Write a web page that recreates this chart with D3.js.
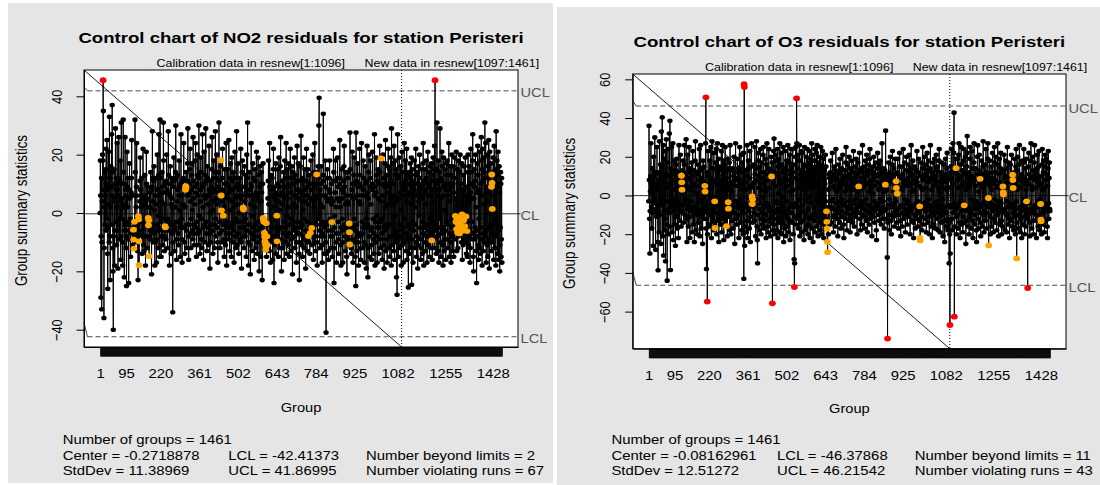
<!DOCTYPE html>
<html>
<head>
<meta charset="utf-8">
<script src="https://cdn.jsdelivr.net/npm/d3@7"></script>
<style>
html,body{margin:0;padding:0;background:#ffffff;}
svg{display:block;}
text{font-family:"Liberation Sans",Arial,Helvetica,sans-serif;}
</style>
</head>
<body>
<svg id="chart" width="1100" height="485"></svg>
<script>
// ================= DATA =================
const groupTickLabels = [1,95,220,361,502,643,784,925,1082,1255,1428];
const nGroups = 1461;
const calibrationEnd = 1096;

// ---- NO2 ----
const no2Title = "Control chart of NO2 residuals for station Peristeri";
const no2YTicks = [-40,-20,0,20,40];
const no2Center = -0.2718878, no2StdDev = 11.38969, no2LCL = -42.41373, no2UCL = 41.86995;
const no2BeyondLimits = 2, no2ViolatingRuns = 67;
const no2RunGroups = [122,123,124,126,140,141,142,143,176,177,178,179,237,238,311,312,313,440,441,442,449,521,522,
  594,595,596,598,599,600,601,602,603,604,605,607,609,643,644,758,765,770,788,843,906,907,908,1022,1206,
  1292,1294,1296,1298,1300,1303,1305,1307,1310,1313,1316,1319,1322,1326,1330,1334,1423,1424,1425,1426];
const no2Rows = [
/*1*/   [0,18,6,-29,-8,12,-33,-10,4,20,18,45.5,35,8,-36,-12,2,14,-4,6],
/*21*/  [15,-6,22,10,-2,25,8,-14,-26,-5,9,21,3,-10,33,12,-8,-23,2,16],
/*41*/  [-4,9,27,14,37,6,-12,-20,-40,-8,4,15,5,-18,-6,10,29,8,-3,12],
/*61*/  [-11,2,24,8,-6,-19,-4,12,26,6,-9,-2,11,18,4,-16,-8,31,10,-2],
/*81*/  [5,-10,-18,2,32,14,3,-6,-22,-4,10,26,8,-3,-12,6,-25,-8,21,9],
/*101*/ [2,12,-4,-9,-24,-6,8,17,5,-2,-7,-15,-3,7,12,25,6,-5,-11,-6],
/*121*/ [-9,-5.7,-9.1,-12.2,-7,-3.0,6,32,14,-4,-10,2,9,24,6,-8,-13,-4,-23,-1.1],
/*141*/ [-2.2,-9.7,-17.9,-6,4,11,19,8,-3,-7,2,12,6,-14,-8,3,22,5,-11,-3],
/*161*/ [-13,-2,6,13,3,-18,-8,4,21,10,-4,-12,5,9,2,-1.7,-4.2,-2.5,-14.8,-8],
/*181*/ [7,2,-9,-6,14,8,-5,-21,-4,9,28,12,-5,-10,4,11,16,1,-7,-18],
/*201*/ [-10,6,12,3,-9,-17,-4,8,20,8,-6,-12,-1,13,27,6,-5,-15,32,12],
/*221*/ [-3,7,-15,-8,4,14,9,-6,-11,7,31,18,-2,-8,-13,3,-4.5,-4.9,10,-9],
/*241*/ [-6,11,20,8,-3,-12,-2,7,28,13,-3,-6,-18,-4,6,16,10,-4,-14,3],
/*261*/ [12,5,-7,2,-34,-10,-4,9,19,11,-5,-13,-6,2,14,30,12,-3,-16,-9],
/*281*/ [4,13,8,-3,-7,-11,6,18,9,1,-5,-15,-4,10,27,9,-2,-9,-17,6],
/*301*/ [11,-5,3,12,24,8,-5,-10,-14,2,8.0,9.2,8.6,14,-6,-12,-4,11,17,29],
/*321*/ [6,-8,-16,-4,7,10,15,22,4,-7,-12,-2,8,13,17,1,-6,-9,26,11],
/*341*/ [5,-4,-11,-7,3,9,18,24,7,-5,-15,-3,10,20,13,6,-7,-11,12,30],
/*361*/ [12,-1,-6,-14,4,8,19,14,-2,-9,-12,9,27,10,2,-5,-16,6,21,10],
/*381*/ [-4,-10,5,13,29,11,-3,-7,-13,6,16,12,3,-5,-11,6,23,8,-7,-19],
/*401*/ [0,11,7,-10,-4,9,15,26,7,-6,-14,1,12,18,4,-4,-12,8,14,28],
/*421*/ [-2,-8,5,12,20,3,-5,-10,-17,9,14,7,31,11,-3,-7,-12,4,16,18.1],
/*441*/ [6.0,0.9,-6,-10,12,22,8,-4,-0.9,7,-9,-15,2,15,10,-4,-11,6,24,-7],
/*461*/ [-18,-5,10,15,5,-3,-9,9,25,7,-7,-13,1,12,17,8,-5,-15,4,19],
/*481*/ [11,-4,-10,8,14,2,-6,-17,-3,12,21,5,-8,-12,-2,9,28,6,-11,3],
/*501*/ [10,17,-3,-7,-14,0,12,8,-5,-9,9,22,5,-10,-19,6,14,18,-3,-8],
/*521*/ [1.8,1.2,-5,-12,9,16,4,-8,-2,13,7,-15,-6,20,12,6,31,-6,-10,-18],
/*541*/ [-4,6,14,8,-4,-11,-21,3,10,24,9,-7,-13,-1,6,17,12,-5,-9,5],
/*561*/ [-16,-8,2,15,11,-4,-12,7,21,6,-6,-14,-10,5,19,13,-3,-8,-20,4],
/*581*/ [9,16,10,-5,-15,4,14,7,-9,-23,-5,10,17,-1.7,-2.4,-3.0,-11,-6.8,-8.2,-9.7],
/*601*/ [-7.6,-10.8,-12.6,-11.4,-3.5,-15,-8.0,-4,-11.0,-7,5,11,18,3,-9,-13,24,9,-4,-17],
/*621*/ [8,13,-3,-10,6,12,-5,-16,2,15,22,-8,-24,-2,9,5,-11,7,17,-14],
/*641*/ [6,-8,-0.9,-9.7,-6,10,15,-6,-15,4,19,9,-12,-5,1,16,26,6,-9,-20],
/*661*/ [-5,7,11,3,-12,-7,9,14,-3,-16,6,18,12,-5,-10,5,24,9,-14,-1],
/*681*/ [15,5,-8,-11,2,17,9,-4,-15,-7,12,22,7,-2,-13,-9,10,16,-4,-21],
/*701*/ [12,14,-3,-6,3,10,19,-8,-12,6,13,2,-5,-17,-10,11,23,-3,-7,8],
/*721*/ [17,5,-7,-14,-23,-10,7,16,11,-5,26.5,7,-11,-4,4,12,-15,-8,1,19],
/*741*/ [6,-12,-2,8,15,4,-9,-19,-6,11,22,6,-13,-3,9,15,3,-7.9,-10,-7],
/*761*/ [13,10,-14,-5,-6.8,5,18,8,-4,-5.1,-8,-11,10,20,-6,-16,4,14,2,-10],
/*781*/ [24,9,-8,-13,6,14,-4,13.2,10,-18,-10,5,16,12,-2,30,39.5,-6,-12,8],
/*801*/ [-8,3,10,16,6,-4,-11,-17,-7,2,13,34,11,-3,-8,-14,-5,6,18,9],
/*821*/ [-10,-41,-14,-4,5,12,15,4,-6,-13,-16,-3,8,12,18,7,-2,-8,-12,5],
/*841*/ [10,3,-3.1,-8,-15,-6,4,11,22,14,-24,-12,-5,-1,7,18,11,2,-10,-17],
/*861*/ [-7,5,12,19,9,-3,-9,-14,-7,4,10,25,12,2,-11,-18,-5,5,15,8],
/*881*/ [-2,-10,-17,-6,7,11,16,23,9,-4,-13,-8,3,14,6,-5,-15,-21,-9,4],
/*901*/ [12,14,3,-7,-11,-3.6,-6.6,-10.8,27.6,15,6,-5,-12,-14,-4,8,21,10,-9,-17],
/*921*/ [-5,5,13,19,10,-2,-10,-15,-6,-25,27.6,11,-4,-13,-8,6,17,9,-10,-18],
/*941*/ [-7,4,10,22,13,3,-8,-16,-12,6,24,9,-3,-12,-7,8,18,12,-5,-10],
/*961*/ [-17,-4,6,16,10,-5,-11,-19,-2,11,23,7,-4,-22,-12,5,14,20,-8,-15],
/*981*/ [-5,9,12,18,3,-6,-11,-16,-5,8,21,10,-2,-9,-14,-7,6,27,9,-18],
/*1001*/[-10,-3,7,19,13,-1,-8,-17,-5,11,15,5,-5,-14,-9,10,23,14,-3,-12],
/*1021*/[4,18.7,10,-2,-7,-16,-9,6,20,12,-5,-11,-19,-6,9,17,2,25,-13,-4],
/*1041*/[10,13,-5,-17,-9,7,16,22,3,-12,-4,9,15,-15,-8,6,19,11,-18,29],
/*1061*/[5,-11,-8,3,17,10,-13,-7,23,6,-16,-1,13,18,-10,4,15,-22,-6,-28],
/*1081*/[-8,27,12,-9,-15,5,13,19,-4,-12,-8,7,16,1,-18,-6,10,21,-11,9],
/*1101*/[14,-5,-17,6,10,24,8,-10,-2,18,11,-13,-7,4,22,-16,-9,6,13,-4],
/*1121*/[-25.5,-8,10,14,-14,-5,7,17,12,-12,3,19,-24.6,-9,9,15,-3,-17,6,11],
/*1141*/[-6,8,18,-12,-4,2,13,22,6,-10,-15,-8,10,14,-19,-11,4,16,7,-1],
/*1161*/[12,20,-9,-5,9,-16,-12,5,15,10,-3,-14,6,17,24,-7,-18,8,11,-5],
/*1181*/[15,7,-10,-13,3,18,12,-8,-17,-4,10,21,6,-11,-6,9,14,-15,-2,16],
/*1201*/[6,-12,-7,11,17,-9.4,8,-16,-3,13,19,4,-9,15,-12,23,8,45.5,15,-6],
/*1221*/[10,-14,-4,15,31,11,-8,-13,6,18,-5,-17,8,14,-2,29,12,-10,-15,5],
/*1241*/[-7,11,21,16,-5,-11,-18,6,19,9,-13,-9,1,15,10,-6,-16,8,17,-3],
/*1261*/[13,18,6,-9,-12,-4,8,24,10,-15,-7,4,16,13,-10,-17,-2,9,20,-8],
/*1281*/[-13,-5,10,16,7,-15,-3,12,19,-9,5,-1.0,-7,-3.0,21,-5.5,-13,-2.0,15,-6.8],
/*1301*/[-12,18,-4.0,-8,-1.5,14,-7.0,-5,20,-3.2,-7,10,-5.0,-10,17,-0.5,-16,8,-6.0,-11],
/*1321*/[13,-2.5,-9,16,-6,-4.5,-10,19,-7,-1.2,9,-14,6,-6.2,-15,14,-8,20,4,-11],
/*1341*/[6,16,10,-6,-17,-12,7,22,14,5,-9,-3,10,18,27,-7,-15,-20,5,15],
/*1361*/[9,-9,-5,11,20,2,-13,-8,-24,-6,17,7,23,13,-11,-16,8,-2,21,-12],
/*1381*/[7,-14,-5,10,18,26,6,-9,-18,15,22,11,-7,-13,3,19,14,-10,31,-8],
/*1401*/[12,24,-6,-17,9,4,-11,20,16,-15,-9,7,25,13,-19,-5,21,10,-10,-4],
/*1421*/[17,-13,9,13.2,10.3,1.4,-10,-7,19,14,-16,6,23,10,-12,-2,15,7,-18,28],
/*1441*/[-8,13,18,-4,-14,10,21,-6,-16,9,16,7,-20,-11,-5,14,10,-15,-9,12],
/*1461*/[-17]
];

// ---- O3 ----
const o3Title = "Control chart of O3 residuals for station Peristeri";
const o3YTicks = [-60,-40,-20,0,20,40,60];
const o3Center = -0.08162961, o3StdDev = 12.51272, o3LCL = -46.37868, o3UCL = 46.21542;
const o3BeyondLimits = 11, o3ViolatingRuns = 43;
const o3RunGroups = [120,121,122,205,206,241,242,284,290,291,377,378,379,448,648,649,650,651,652,765,862,
  901,902,905,987,988,989,1119,1149,1207,1237,1238,1290,1291,1292,1325,1326,1327,1340,1376,1427,1428,1429];
const o3Rows = [
/*1*/   [-3,36,8,-12,-30,-8,2,10,27,6,-6,-17,4,14,-9,1,-26,6,20,-4],
/*21*/  [10,-2,30,12,4,-28,-7,12,-11,3,25,6,-9,-24,-38.6,-5,8,12,-19,28],
/*41*/  [-10,11,-2,16,-25,-5,33,9,-4,40.4,-21,-3,10,26,-31,-8,19,7,-12,-18],
/*61*/  [23,-34,-9,11,29,4,-15,-44,-3,17,24,6,-20,-7,10,32,-9,38.6,-16,-38.5],
/*81*/  [14,6,-6,25,8,-19,-5,12,27,-2,-23,-8,11,18,3,-15,-4,-26,13,16],
/*101*/ [-11,7,19,-3,-17,4,12,-6,-22,8,26,9,-13,-5,4,21,-8,3,-16,10.2],
/*121*/ [6.8,3.0,1.5,13,-9,18,-5,-14,8,16,26,-4,-10,3,11,-2,29,5,-12,-24],
/*141*/ [-7,12,21,4,-16,-5,9,25,3,-11,-22,-3,14,8,-8,4,17,-6,-19,10],
/*161*/ [23,5,-9,-15,6,13,-24,-8,2,18,28,-6,-18,5,12,-10,1,-20,-4,16],
/*181*/ [11,-7,-14,8,24,5,-21,-9,13,26,-2,-17,6,9,-11,14,-25,-4,18,7],
/*201*/ [-9,15,6,-12,5.0,2.0,-6,27,50.7,-17,-38,-8,12,-54.8,-20,-3,23,10,-15,6],
/*221*/ [-10,4,18,-4,-16,9,25,-6,-22,4,28,7,-12,-7,14,-18,-1,22,8,-14],
/*241*/ [-3.0,-16.8,-5,17,6,-9,24,-20,-4,12,27,-5,-13,10,19,-24,2,15,-11,-6],
/*261*/ [8,-15,-3,13,23,-2,-19,5,26,-8,-12,11,18,-23,-4,16,3,-10,25,-14],
/*281*/ [12,-7,9,-15.9,-5,19,-21,6,14,-3.5,-6.8,-11,3,17,-18,4,26,-9,13,-20],
/*301*/ [7,-4,-13,2,14,6,-8,-17,-6,10,20,5,-9,-25,-3,12,27,8,-12,-3],
/*321*/ [-15,-6,9,19,5,-10,-4,14,-22,-5,8,25,6,-14,-2,12,21,-7,-18,3],
/*341*/ [17,6,-5,-20,-9,22,-43,57.5,56,-26,-16,-4,7,13,3,-19,-6,10,26,-13],
/*361*/ [-22,-1,14,18,4,-8,-17,9,23,5,-24,-11,4,15,27,-4,-0.5,-4.4,-2.0,-14],
/*381*/ [-6,6,16,-9,-13,7,25,11,-5,-21,-2,14,28,8,-16,-23,-35,-10,18,22],
/*401*/ [4,-7,-18,10,15,-4,6,24,-12,-20,3,17,9,-9,-15,-1,21,25,-6,-17],
/*421*/ [12,-6,-13,7,19,2,-10,-22,-4,16,27,11,-5,-16,-19,8,14,24,-8,-12],
/*441*/ [4,13,-6,-21,-14,9,20,9.8,-11,17,-55.7,-8,-18,6,23,-15,29.4,12,-9,-20],
/*461*/ [-4,5,18,21,-3,-12,-18,10,24,-7,-22,1,15,19,-9,-14,8,27,-4,-19],
/*481*/ [6,22,-11,-20,7,16,-6,-15,12,25,-1,-24,-8,14,9,-17,4,23,-8,-21],
/*501*/ [-10,13,18,-3,-16,8,26,5,-12,-19,-7,17,21,-13,-23,2,11,24,-5,15],
/*521*/ [7,-9,-14,12,24,3,-20,-6,16,-33,-47.3,-35,-11,-4,20,25,9,-15,50.2,27],
/*541*/ [-12,-6,14,21,8,-17,-10,4,26,18,-21,-2,11,-14,6,23,-8,-19,13,4],
/*561*/ [22,-5,-13,10,16,-23,3,25,-9,-18,12,7,-3,20,15,-16,-11,24,5,-20],
/*581*/ [-7,11,17,-15,-1,23,8,-22,-12,19,4,-4,14,27,-17,6,21,-10,-24,13],
/*601*/ [9,-6,-13,18,24,-19,5,15,-9,-2,22,11,-16,26,-11,7,-21,17,-4,12],
/*621*/ [-14,20,-8,9,-18,14,25,-12,4,-20,16,-5,23,-15,10,-1,19,-22,8,13],
/*641*/ [-10,6,-17,21,-3,15,-12,-8.2,-13.6,-17.2,-24,-29.3,-14,-6,-20,3,11,-7,9,-15],
/*661*/ [4,12,18,7,-6,-14,-3,9,22,11,-2,-11,-19,-7,5,15,8,-10,-16,3],
/*681*/ [13,24,9,-4,-12,2,11,-8,-21,-6,8,16,4,-9,-14,6,19,12,-3,-17],
/*701*/ [-8,5,14,-2,-11,7,21,10,-5,-15,-22,-4,9,13,2,-12,6,17,25,3],
/*721*/ [-9,-18,-6,10,16,5,-7,-13,8,20,11,-3,-10,-19,4,14,-5,-12,9,18],
/*741*/ [6,-7,-14,3,12,23,8,-4,-16,-9,7,15,-2,-11,10,19,5,-8,-20,-6],
/*761*/ [11,17,2,-9,4.7,-5,13,22,7,-12,-18,-3,9,14,-6,-15,3,12,26,4],
/*781*/ [-10,-4,8,15,-7,-17,-11,5,18,10,-2,-13,6,21,13,-8,-19,-5,11,16],
/*801*/ [2,-9,-15,7,19,24,6,-6,-12,4,13,-10,-21,-7,8,15,1,-11,12,20],
/*821*/ [9,-3,-14,-8,5,17,10,-5,-18,-23,-6,7,14,22,11,-4,-10,3,16,-7],
/*841*/ [-13,-2,10,18,6,-9,-15,4,12,27,9,-6,-12,-3,8,14,-8,-17,5,13],
/*861*/ [2,5.6,33.5,8,-7,-12,3,11,-32,-73.9,-14,-5,9,17,6,-10,-18,-2,12,20],
/*881*/ [8,-5,-13,-20,-6,10,16,23,7,-4,-11,2,14,-9,-16,5,11,19,-3,-10],
/*901*/ [7.3,3.9,-8,-14,0.9,12,19,6,-7,-17,-10,4,15,22,10,-6,-13,-21,-5,9],
/*921*/ [15,4,-9,-16,3,11,24,8,-5,-12,6,17,-2,-10,-19,-7,8,13,20,5],
/*941*/ [-8,-15,-4,9,16,-3,-11,7,21,12,-6,-20,-9,5,14,26,10,-7,-13,2],
/*961*/ [11,18,-5,-14,-22,-6,8,15,3,-10,-17,6,13,-4,-12,9,23,7,-9,-16],
/*981*/ [-3,12,19,5,-8,-13,-5.6,-21.9,-23.3,-7,10,17,4,-11,-18,3,14,25,8,-6],
/*1001*/[-15,-4,9,20,11,-6,-12,4,16,-8,-19,-3,10,22,13,-5,-14,7,18,-2],
/*1021*/[-11,-20,-5,8,14,26,9,-7,-16,3,12,-9,-22,-6,11,17,5,-10,-15,8],
/*1041*/[19,6,-8,-17,-4,10,21,13,-3,-12,7,15,-6,-18,-9,4,18,24,2,-11],
/*1061*/[-19,-7,6,12,-5,-14,8,17,10,-2,-10,-21,-8,9,16,4,-13,-24,-6,11],
/*1081*/[19,7,-9,-16,3,14,22,8,-12,-18,-5,10,4,-35,-14,-20,-66.9,-30,12,-6],
/*1101*/[15,24,9,-12,-18,-5,13,27,6,-9,22,42.8,-62.6,-16,-4,12,19,-7,14.1,-11],
/*1121*/[-20,-6,11,19,8,-10,-17,4,21,27,10,-5,-14,-22,-3,9,16,25,-8,-15],
/*1141*/[5,13,-4,-19,-11,7,18,24,-5.1,-14,-7,11,20,3,-25,-13,6,15,22,30.7],
/*1161*/[9,-8,-16,4,12,-6,-20,-11,8,19,25,6,-9,-17,-2,10,23,14,-7,-13],
/*1181*/[-22,-4,9,17,27,8,-6,-15,-10,5,14,-3,-18,-24,-7,11,20,26,-5,-12],
/*1201*/[-17,2,13,21,6,-9,8.6,-14,-21,-6,9,18,11,-4,-16,7,15,28,4,-10],
/*1221*/[-19,-8,10,16,-3,-13,6,24,12,-5,-17,-9,8,19,27,11,-1.3,-25.8,-6,9],
/*1241*/[18,5,-11,-20,-4,7,15,-6,-16,3,12,22,9,-8,-19,-12,6,17,25,-2],
/*1261*/[-14,-5,8,20,12,-7,-18,-10,5,16,27,4,-9,-21,-3,11,19,-6,-15,7],
/*1281*/[14,22,-4,-13,-20,5,12,-8,-16,4.7,1.6,0.5,13,21,9,-7,-18,-9,10,18],
/*1301*/[6,-10,-19,-3,14,25,7,-6,-15,4,17,10,-12,-22,-5,9,16,-4,-13,8],
/*1321*/[21,11,-6,-16,10.7,8.0,3.9,-9,-18,-5,12,19,6,-11,-20,-7,15,24,-3,-32.5],
/*1341*/[-14,3,13,20,8,-10,-17,5,16,26,9,-6,-19,-12,4,11,-8,-22,10,18],
/*1361*/[7,-5,-15,9,17,24,-2,-11,-20,6,14,-7,-16,3,19,-3.0,-9,8,-12,-47.8],
/*1381*/[-10,6,15,22,11,-4,-14,-21,-7,9,18,27,5,-9,-17,3,13,20,-6,-13],
/*1401*/[-20,-8,10,17,26,8,-5,-13,4,12,-10,-22,-6,14,21,9,-3,-16,7,15],
/*1421*/[23,5,-11,-18,-2,10,-4.4,-12.5,-13.3,-20,6,16,24,3,-9,-15,12,18,-7,-14],
/*1441*/[-19,4,15,21,-6,-13,8,19,11,-8,-16,-22,5,14,23,-4,-12,9,17,-7],
/*1461*/[-8]
];

const no2Values = no2Rows.flat();
const o3Values = o3Rows.flat();

// ================= DRAWING =================
const svg = d3.select("#chart");
const K = 1.2; // horizontal glyph stretch seen in the reference

function label(g, s, x, y, o = {}) {
  const k = o.k != null ? o.k : K;
  const t = g.append("text").text(s)
    .attr("transform", `translate(${x},${y}) scale(${k},1)` + (o.rot ? ` rotate(${o.rot})` : ""))
    .attr("font-size", o.size || 12.4)
    .attr("text-anchor", o.anchor || "start")
    .attr("fill", o.fill || "#000");
  if (o.bold) t.attr("font-weight", "bold");
  return t;
}

function drawPanel(p) {
  const g = svg.append("g");
  g.append("rect").attr("x", p.bg[0]).attr("y", p.bg[1])
    .attr("width", p.bg[2] - p.bg[0]).attr("height", p.bg[3] - p.bg[1]).attr("fill", "#e5e5e5");
  const b = p.box;
  const span = nGroups - 1;
  const x = d3.scaleLinear().domain([1 - 0.04 * span, nGroups + 0.04 * span]).range([b.x0, b.x1]);
  const lo = Math.min(p.lcl, d3.min(p.values)), hi = Math.max(p.ucl, d3.max(p.values));
  const pad = 0.04 * (hi - lo);
  const y = d3.scaleLinear().domain([lo - pad, hi + pad]).range([b.y1, b.y0]);

  g.append("rect").attr("x", b.x0).attr("y", b.y0).attr("width", b.x1 - b.x0).attr("height", b.y1 - b.y0)
    .attr("fill", "#fff");

  // center line
  g.append("line").attr("x1", b.x0).attr("x2", b.x1 + 2.5).attr("y1", y(p.center)).attr("y2", y(p.center))
    .attr("stroke", "#333").attr("stroke-width", 1);
  // control limits
  [[p.ucl, p.slantU], [p.lcl, p.slantL]].forEach(([v, d]) => {
    g.append("line").attr("x1", b.x0 + 3.5).attr("x2", b.x1).attr("y1", y(v)).attr("y2", y(v))
      .attr("stroke", "#4a4a4a").attr("stroke-width", 1).attr("stroke-dasharray", "5,3");
    g.append("line").attr("x1", b.x0).attr("x2", b.x0 + 3.5).attr("y1", y(v) - d).attr("y2", y(v))
      .attr("stroke", "#333").attr("stroke-width", 0.9);
  });
  // separator between calibration and new data
  const xs = x(calibrationEnd + 0.5);
  g.append("line").attr("x1", xs).attr("x2", xs).attr("y1", b.y0).attr("y2", b.y1)
    .attr("stroke", "#000").attr("stroke-width", 1).attr("stroke-dasharray", "1,2");
  // diagonal
  g.append("line").attr("x1", b.x0).attr("y1", b.y0).attr("x2", xs).attr("y2", b.y1)
    .attr("stroke", "#000").attr("stroke-width", 0.9);

  const runSet = new Set(p.runs);
  const data = p.values.map((v, i) => ({ g: i + 1, v, run: runSet.has(i + 1), out: v > p.ucl || v < p.lcl }));
  g.append("path").datum(data)
    .attr("d", d3.line().x(d => x(d.g)).y(d => y(d.v)))
    .attr("fill", "none").attr("stroke", "#000").attr("stroke-width", 1);
  g.append("g").selectAll("ellipse").data(data.filter(d => !d.run && !d.out)).join("ellipse")
    .attr("cx", d => x(d.g)).attr("cy", d => y(d.v)).attr("rx", 2.7).attr("ry", 2.3).attr("fill", "#000");
  g.append("g").selectAll("ellipse").data(data.filter(d => d.run && !d.out)).join("ellipse")
    .attr("cx", d => x(d.g)).attr("cy", d => y(d.v)).attr("rx", 3.4).attr("ry", 2.9).attr("fill", "#FFA500");
  g.append("g").selectAll("ellipse").data(data.filter(d => d.out)).join("ellipse")
    .attr("cx", d => x(d.g)).attr("cy", d => y(d.v)).attr("rx", 3.4).attr("ry", 2.9).attr("fill", "#FF0000");

  // box
  g.append("rect").attr("x", b.x0).attr("y", b.y0).attr("width", b.x1 - b.x0).attr("height", b.y1 - b.y0)
    .attr("fill", "none").attr("stroke", "#000").attr("stroke-width", 1);

  // x axis: a tick at every group
  g.append("g").attr("transform", `translate(0,${b.y1})`)
    .call(d3.axisBottom(x).tickValues(d3.range(1, nGroups + 1)).tickSize(9.5).tickSizeOuter(0).tickFormat(""))
    .call(a => a.selectAll("line").attr("stroke", "#000").attr("stroke-width", 0.6))
    .call(a => a.select(".domain").attr("stroke", "#000"));
  g.append("g").attr("transform", `translate(0,${b.y1})`)
    .call(d3.axisBottom(x).tickValues(groupTickLabels).tickSize(0).tickFormat(d3.format("d")))
    .call(a => a.select(".domain").remove())
    .call(a => a.selectAll("text").attr("y", null).attr("dy", null)
      .attr("transform", `translate(0,31.3) scale(${K},1)`)
      .attr("font-size", 12.4).attr("fill", "#000")
      .attr("font-family", '"Liberation Sans",Arial,sans-serif'));

  // y axis
  g.append("g").attr("transform", `translate(${b.x0},0)`)
    .call(d3.axisLeft(y).tickValues(p.yTicks).tickSize(7.5).tickSizeOuter(0).tickFormat(d3.format("d")))
    .call(a => a.select(".domain").attr("stroke", "#000"))
    .call(a => a.selectAll("line").attr("stroke", "#000"))
    .call(a => a.selectAll("text").attr("x", null).attr("dy", null)
      .attr("text-anchor", "middle")
      .attr("transform", `translate(-22.3,0) scale(${K},1) rotate(-90)`)
      .attr("font-size", 12.8).attr("fill", "#000")
      .attr("font-family", '"Liberation Sans",Arial,sans-serif'));

  // limit labels
  [["UCL", p.ucl], ["CL", p.center], ["LCL", p.lcl]].forEach(([s, v]) =>
    label(g, s, b.x1 + 2.5, y(v) + 6.5, { size: 12.2, fill: "#555" }));

  // titles
  const cx = (b.x0 + b.x1) / 2;
  label(g, p.title, cx, b.y0 - 27, { size: 15.5, anchor: "middle", bold: true });
  label(g, `Calibration data in resnew[1:${calibrationEnd}]`, x((1 + calibrationEnd) / 2), b.y0 - 2.8,
    { size: 11, anchor: "middle", k: 1.13 });
  label(g, `New data in resnew[${calibrationEnd + 1}:${nGroups}]`, x((calibrationEnd + 1 + nGroups) / 2), b.y0 - 2.8,
    { size: 11, anchor: "middle", k: 1.13 });
  label(g, "Group summary statistics", b.x0 - 57.3, (b.y0 + b.y1) / 2 + 2, { size: 13.4, anchor: "middle", rot: -90 });
  label(g, "Group", cx, b.y1 + 64.7, { size: 12.2, anchor: "middle" });

  // summary statistics
  const c1 = b.x0 - 21.3, c2 = b.x0 + 144.3, c3 = b.x0 + 282;
  const r = [444.3, 459.5, 474.5];
  label(g, `Number of groups = ${nGroups}`, c1, r[0]);
  label(g, `Center = ${p.center}`, c1, r[1]);
  label(g, `StdDev = ${p.sd}`, c1, r[2]);
  label(g, `LCL = ${p.lcl}`, c2, r[1]);
  label(g, `UCL = ${p.ucl}`, c2, r[2]);
  label(g, `Number beyond limits = ${p.beyond}`, c3, r[1]);
  label(g, `Number violating runs = ${p.violating}`, c3, r[2]);
}

drawPanel({
  bg: [8, 3, 553, 483], box: { x0: 84, y0: 70, x1: 518, y1: 347 },
  title: no2Title, values: no2Values, runs: no2RunGroups, yTicks: no2YTicks,
  center: no2Center, sd: no2StdDev, lcl: no2LCL, ucl: no2UCL,
  beyond: no2BeyondLimits, violating: no2ViolatingRuns, slantU: 3.5, slantL: 14
});
drawPanel({
  bg: [557, 7, 1100, 485], box: { x0: 632.7, y0: 74, x1: 1066, y1: 348.7 },
  title: o3Title, values: o3Values, runs: o3RunGroups, yTicks: o3YTicks,
  center: o3Center, sd: o3StdDev, lcl: o3LCL, ucl: o3UCL,
  beyond: o3BeyondLimits, violating: o3ViolatingRuns, slantU: 5.3, slantL: 13.3
});
</script>
</body>
</html>
